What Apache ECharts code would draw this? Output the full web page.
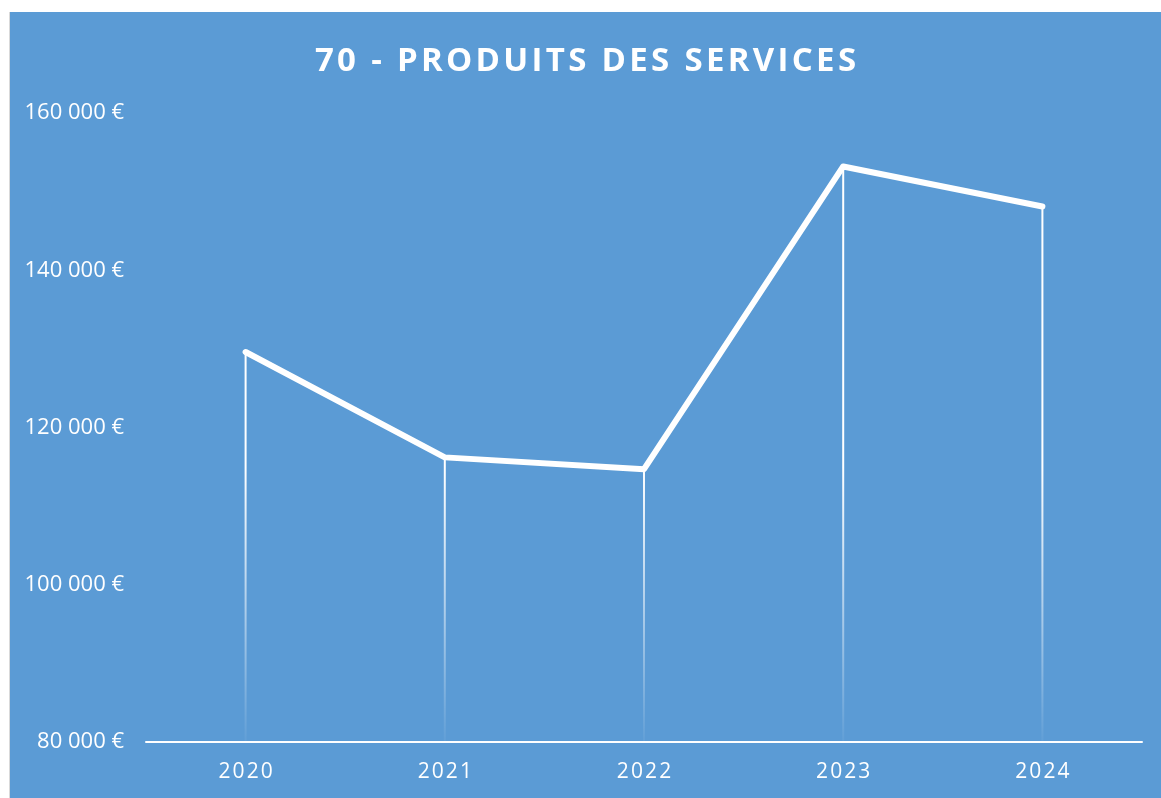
<!DOCTYPE html>
<html>
<head>
<meta charset="utf-8">
<script src="https://cdn.jsdelivr.net/npm/echarts@6/dist/echarts.min.js"></script>
<style>
    html, body { margin: 0; padding: 0; background: #fff; }
    #main {
        position: absolute;
        left: 9px; top: 12px;
        width: 1152px; height: 786px;
        border-left: 1px solid #d9d9d9;
        box-sizing: border-box;
    }
</style>
</head>
<body>
<div id="main"></div>
<script>
// données
var years = ['2020', '2021', '2022', '2023', '2024'];
var produits = [129600, 116200, 114700, 153200, 148100];
var yMin = 80000, yMax = 160000, yStep = 20000;
var titre = '70 - PRODUITS DES SERVICES';

// espacement des lettres (fin espace)
function spaced(s) {
    return s.split('').join('\u200A');
}
function euro(v) {
    var s = String(v).replace(/\B(?=(\d{3})+(?!\d))/g, ' ');
    return s + ' €';
}

var myChart = echarts.init(document.getElementById('main'));

var option = {
    backgroundColor: '#5B9BD5',
    animation: false,
    title: {
        text: spaced(titre),
        left: 'center',
        top: 28,
        textStyle: {
            color: '#fff',
            fontFamily: 'Open Sans',
            fontWeight: 'bold',
            fontSize: 33
        }
    },
    grid: { left: 136, right: 19, top: 101, bottom: 56 },
    xAxis: {
        type: 'category',
        data: years,
        boundaryGap: true,
        axisLine: { lineStyle: { color: '#fff', width: 2 } },
        axisTick: { show: false },
        axisLabel: {
            color: '#fff',
            fontFamily: 'Open Sans',
            fontSize: 21,
            margin: 20,
            formatter: function (v) { return spaced(v); }
        }
    },
    yAxis: {
        type: 'value',
        min: yMin,
        max: yMax,
        interval: yStep,
        splitLine: { show: false },
        axisLine: { show: false },
        axisTick: { show: false },
        axisLabel: {
            color: '#fff',
            fontFamily: 'Open Sans',
            fontSize: 22,
            margin: 22,
            formatter: euro
        }
    },
    series: [
        {
            // lignes verticales
            type: 'bar',
            data: produits,
            barWidth: 2,
            z: 1,
            itemStyle: {
                color: new echarts.graphic.LinearGradient(0, 455, 0, 730, [
                    { offset: 0, color: 'rgba(255,255,255,1)' },
                    { offset: 1, color: 'rgba(255,255,255,0.04)' }
                ], true)
            }
        },
        {
            type: 'line',
            data: produits,
            z: 3,
            symbol: 'none',
            lineStyle: { color: '#fff', width: 6, cap: 'round', join: 'round' }
        }
    ]
};

myChart.setOption(option);
</script>
</body>
</html>
